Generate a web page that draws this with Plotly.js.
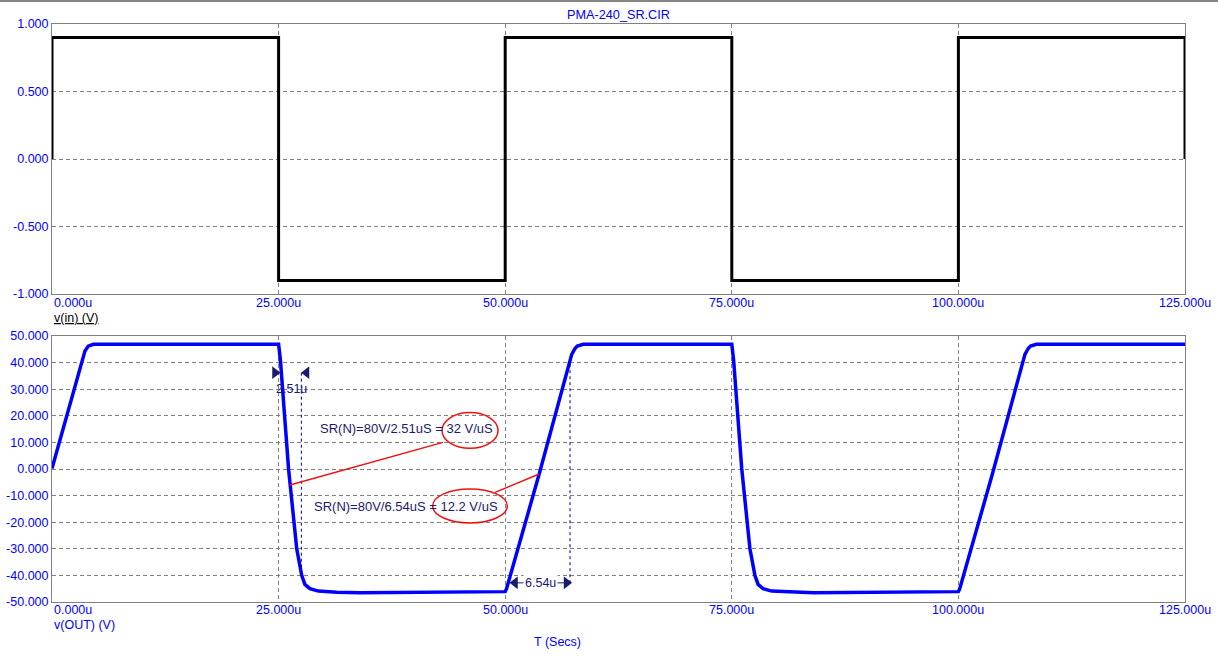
<!DOCTYPE html>
<html>
<head>
<meta charset="utf-8">
<script src="https://cdn.plot.ly/plotly-3.0.1.min.js"></script>
<style>
html,body{margin:0;padding:0;background:#fff;}
#wrap{position:relative;width:1218px;height:657px;}
#topline{position:absolute;left:0;top:0;width:1218px;height:2px;background:#858585;z-index:10;}
</style>
</head>
<body>
<div id="wrap"><div id="topline"></div><div id="chart"></div></div>
<script>
// ---- data ----
const chartTitle = 'PMA-240_SR.CIR';
// input square wave v(in) (V) vs time (us)
const tIn = [0, 0, 25, 25, 50, 50, 75, 75, 100, 100, 125, 125];
const vIn = [0, 0.9, 0.9, -0.9, -0.9, 0.9, 0.9, -0.9, -0.9, 0.9, 0.9, 0];
// output v(OUT) (V) vs time (us)
const tOut = [0, 3.64, 4.0, 4.56, 25.0,
  25.2, 26.1, 27.0, 27.55, 27.9, 28.45, 29.4, 31.4, 34.0, 50.0,
  50.15, 53.75, 57.34, 57.7, 57.96, 58.6, 75.0,
  75.2, 76.1, 77.0, 77.55, 77.9, 78.45, 79.4, 81.4, 84.0, 100.0,
  100.15, 103.75, 107.34, 107.7, 107.96, 108.6, 125.0];
const vOut = [0.2, 44.4, 46.2, 46.9, 46.9,
  41, 0, -30, -40, -43.4, -45, -45.9, -46.3, -46.5, -46.1,
  -45.0, -1.9, 43.1, 45.3, 46.2, 46.9, 46.9,
  41, 0, -30, -40, -43.4, -45, -45.9, -46.3, -46.5, -46.1,
  -45.0, -1.9, 43.1, 45.3, 46.2, 46.9, 46.9];
// tick values / labels
const xTickVals = [0, 25, 50, 75, 100, 125];
const xTickLabels = ['0.000u', '25.000u', '50.000u', '75.000u', '100.000u', '125.000u'];
const yInTickVals = [1, 0.5, 0, -0.5, -1];
const yInTickLabels = ['1.000', '0.500', '0.000', '-0.500', '-1.000'];
const yOutTickVals = [50, 40, 30, 20, 10, 0, -10, -20, -30, -40, -50];
const yOutTickLabels = ['50.000', '40.000', '30.000', '20.000', '10.000', '0.000',
  '-10.000', '-20.000', '-30.000', '-40.000', '-50.000'];
// measurement annotations (us, V)
const dimFall = {t0: 25.0, t1: 27.51, v: 36.2, label: '2.51u'};
const dimRise = {t0: 50.61, t1: 57.15, v: -42.8, label: '6.54u'};
const srText1 = 'SR(N)=80V/2.51uS = 32 V/uS';
const srText2 = 'SR(N)=80V/6.54uS = 12.2 V/uS';
const arrowT = [24.6, 28.08, 51.08, 56.77];
const arrowV = [36.2, 36.2, -42.8, -42.8];
const arrowSym = ['triangle-right', 'triangle-left', 'triangle-left', 'triangle-right'];

// ---- styling ----
const BLUE = '#0000ff';
const NAVY = '#1a1a6e';
const GRID = '#808080';
const RED = '#ee1111';
const FONT = '"Liberation Sans", Arial, sans-serif';

const traces = [
  {x: tIn, y: vIn, xaxis: 'x', yaxis: 'y', type: 'scatter', mode: 'lines',
   line: {color: '#000000', width: 3}, hoverinfo: 'skip'},
  {x: tOut, y: vOut, xaxis: 'x2', yaxis: 'y2', type: 'scatter', mode: 'lines',
   line: {color: BLUE, width: 3.5}, hoverinfo: 'skip'},
  {x: arrowT, y: arrowV, xaxis: 'x2', yaxis: 'y2', type: 'scatter', mode: 'markers',
   marker: {symbol: arrowSym, size: 11, color: NAVY}, hoverinfo: 'skip'}
];

function xAxis(anchor) {
  return {anchor: anchor, domain: [0, 1], range: [0, 125], tickvals: xTickVals,
    showticklabels: false, ticks: '', showgrid: true, gridcolor: GRID, gridwidth: 1,
    griddash: '4px,3px', zeroline: false, showline: true, mirror: true,
    linecolor: GRID, linewidth: 1, automargin: false};
}
function yAxis(anchor, domain, range, vals, labels) {
  return {anchor: anchor, domain: domain, range: range, tickvals: vals, ticktext: labels,
    ticks: '', tickfont: {family: FONT, size: 12.5, color: BLUE},
    showgrid: true, gridcolor: GRID, gridwidth: 1, griddash: '4px,3px',
    zeroline: false, showline: true, mirror: true, linecolor: GRID, linewidth: 1,
    automargin: false};
}

// pixel helpers for paper positions (plot area: y 24..602)
const PT = 24, PB = 602, PH = PB - PT;
const py = (pix) => (PB - pix) / PH;

const annotations = [];
xTickVals.forEach((v, i) => {
  const first = i === 0;
  annotations.push({x: first ? 0 : v, xref: first ? 'paper' : 'x', y: py(302.5), yref: 'paper',
    text: xTickLabels[i], showarrow: false, xanchor: first ? 'left' : 'center', yanchor: 'middle',
    font: {family: FONT, size: 12.5, color: BLUE}});
  annotations.push({x: first ? 0 : v, xref: first ? 'paper' : 'x2', y: py(610), yref: 'paper',
    text: xTickLabels[i], showarrow: false, xanchor: first ? 'left' : 'center', yanchor: 'middle',
    font: {family: FONT, size: 12.5, color: BLUE}});
});
annotations.push({x: 0, xref: 'paper', y: py(318), yref: 'paper', text: '<u>v(in) (V)</u>',
  showarrow: false, xanchor: 'left', yanchor: 'middle', font: {family: FONT, size: 12.5, color: '#000000'}});
annotations.push({x: 0, xref: 'paper', y: py(625), yref: 'paper', text: 'v(OUT) (V)',
  showarrow: false, xanchor: 'left', yanchor: 'middle', font: {family: FONT, size: 12.5, color: BLUE}});
annotations.push({x: (557.5 - 52) / 1133, xref: 'paper', y: py(642), yref: 'paper', text: 'T (Secs)',
  showarrow: false, xanchor: 'center', yanchor: 'middle', font: {family: FONT, size: 12.5, color: BLUE}});
// measurement texts
annotations.push({x: 26.4, xref: 'x2', y: 29.9, yref: 'y2', text: dimFall.label, showarrow: false,
  xanchor: 'center', yanchor: 'middle', font: {family: FONT, size: 12.5, color: NAVY}});
annotations.push({x: 53.84, xref: 'x2', y: dimRise.v, yref: 'y2', text: dimRise.label, showarrow: false,
  xanchor: 'center', yanchor: 'middle', bgcolor: '#ffffff', borderpad: 1,
  font: {family: FONT, size: 12.5, color: NAVY}});
annotations.push({x: 29.35, xref: 'x2', y: 15.1, yref: 'y2', text: srText1, showarrow: false,
  xanchor: 'left', yanchor: 'middle', font: {family: FONT, size: 13, color: NAVY}});
annotations.push({x: 28.72, xref: 'x2', y: -14.2, yref: 'y2', text: srText2, showarrow: false,
  xanchor: 'left', yanchor: 'middle', font: {family: FONT, size: 13, color: NAVY}});

const shapes = [
  // dimension dotted lines
  {type: 'line', xref: 'x2', yref: 'y2', x0: dimFall.t1, x1: dimFall.t1, y0: dimFall.v, y1: -40,
   line: {color: '#000080', width: 1, dash: 'dot'}},
  {type: 'line', xref: 'x2', yref: 'y2', x0: dimRise.t1, x1: dimRise.t1, y0: 39.4, y1: dimRise.v,
   line: {color: '#000080', width: 1, dash: 'dot'}},
  {type: 'line', xref: 'x2', yref: 'y2', x0: dimRise.t0 + 0.5, x1: dimRise.t1 - 0.4, y0: dimRise.v, y1: dimRise.v,
   line: {color: NAVY, width: 1}},
  // red callouts
  {type: 'line', xref: 'x2', yref: 'y2', x0: 43.14, y0: 10.0, x1: 26.25, y1: -6.0,
   line: {color: RED, width: 1.5}},
  {type: 'circle', xref: 'x2', yref: 'y2', x0: 43.03, x1: 49.21, y0: 7.8, y1: 21.2,
   line: {color: RED, width: 1.5}},
  {type: 'line', xref: 'x2', yref: 'y2', x0: 48.88, y0: -8.8, x1: 53.75, y1: -1.9,
   line: {color: RED, width: 1.5}},
  {type: 'circle', xref: 'x2', yref: 'y2', x0: 42.0, x1: 50.23, y0: -20.3, y1: -7.5,
   line: {color: RED, width: 1.5}}
];

const layout = {
  width: 1218, height: 657,
  margin: {l: 52, r: 33, t: PT, b: 657 - PB, pad: 0},
  paper_bgcolor: '#ffffff', plot_bgcolor: '#ffffff',
  showlegend: false,
  font: {family: FONT, size: 12.5, color: BLUE},
  title: {text: chartTitle, x: 0.5, xref: 'paper', xanchor: 'center',
    y: 1 - 15 / 657, yref: 'container', yanchor: 'middle',
    font: {family: FONT, size: 12.7, color: BLUE}},
  xaxis: xAxis('y'),
  yaxis: yAxis('x', [py(294), 1], [-1, 1], yInTickVals, yInTickLabels),
  xaxis2: xAxis('y2'),
  yaxis2: yAxis('x2', [0, py(336)], [-50, 50], yOutTickVals, yOutTickLabels),
  annotations: annotations,
  shapes: shapes
};

Plotly.newPlot('chart', traces, layout, {staticPlot: true, displayModeBar: false});
</script>
</body>
</html>
